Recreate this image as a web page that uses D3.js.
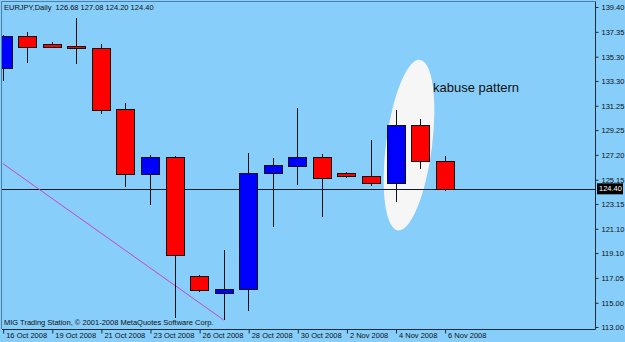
<!DOCTYPE html>
<html>
<head>
<meta charset="utf-8">
<script src="https://cdn.jsdelivr.net/npm/d3@7"></script>
<style>
body { margin: 0; background: #87CEFA; }
svg { display: block; }
text { font-family: "Liberation Sans", Arial, sans-serif; }
</style>
</head>
<body>
<div class="chart"></div>
<script>
// daily bars, EURJPY
var dates = ['16 Oct 2008', '17 Oct 2008', '19 Oct 2008', '20 Oct 2008', '21 Oct 2008', '22 Oct 2008',
	'23 Oct 2008', '24 Oct 2008', '26 Oct 2008', '27 Oct 2008', '28 Oct 2008', '29 Oct 2008',
	'30 Oct 2008', '31 Oct 2008', '2 Nov 2008', '3 Nov 2008', '4 Nov 2008', '5 Nov 2008', '6 Nov 2008'];
var open  = [134.37, 137.00, 136.35, 136.18, 136.04, 130.96, 125.62, 127.00, 117.21, 115.83, 116.11, 125.68, 126.31, 127.05, 125.68, 125.43, 124.85, 129.64, 126.68];
var high  = [137.05, 137.36, 136.51, 138.47, 136.35, 131.45, 127.19, 127.10, 117.25, 119.35, 127.33, 126.92, 131.04, 127.27, 125.81, 128.43, 130.90, 130.16, 127.08];
var low   = [133.30, 134.75, 136.02, 134.67, 130.55, 124.52, 123.06, 113.72, 115.86, 113.58, 114.34, 121.27, 124.71, 122.10, 125.27, 124.63, 123.34, 126.01, 124.20];
var close = [137.00, 136.13, 136.13, 135.99, 130.96, 125.62, 127.00, 118.94, 116.05, 116.13, 125.68, 126.36, 127.02, 125.32, 125.40, 124.85, 129.64, 126.64, 124.40];

var yTicks = [139.40, 137.35, 135.30, 133.30, 131.25, 129.25, 127.20, 125.15, 123.15, 121.10, 119.10, 117.05, 115.00, 113.00];
var xTickIdx = [0, 2, 4, 6, 8, 10, 12, 14, 16, 18];
var lastPrice = 124.40;

var title = 'EURJPY,Daily  126.68 127.08 124.20 124.40';
var copyright = 'MIG Trading Station, \u00a9 2001-2008 MetaQuotes Software Corp.';

// drawn objects: trend line, oval and label
var trendIdx = [0, 9];
var trendPrice = [126.49, 113.58];
var ovalAt = [16.55, 128.0];
var noteText = 'kabuse pattern';
var noteAt = [17.53, 132.39];

var width = 625, height = 342;
var plot = {left: 2, top: 2, right: 595, bottom: 329};

var svg = d3.select('.chart')
	.append('svg')
	.attr('width', width)
	.attr('height', height);

svg.append('rect')
	.attr('width', width)
	.attr('height', height)
	.attr('fill', '#87CEFA');

var x = d3.scaleLinear().domain([0, 18]).range([2.7, 444.6]);
var y = d3.scaleLinear().domain([113.0, 139.4]).range([327, 7]);

svg.append('clipPath')
	.attr('id', 'clip')
	.append('rect')
	.attr('x', plot.left)
	.attr('y', plot.top)
	.attr('width', plot.right - plot.left)
	.attr('height', plot.bottom - plot.top);

var g = svg.append('g').attr('clip-path', 'url(#clip)');

// oval round the pattern
g.append('ellipse')
	.attr('cx', 0)
	.attr('cy', 0)
	.attr('rx', 23)
	.attr('ry', 86)
	.attr('transform', 'translate(' + x(ovalAt[0]) + ',' + y(ovalAt[1]) + ') rotate(7.4)')
	.attr('fill', '#f6f6f6');

// last price line
g.append('line')
	.attr('x1', plot.left)
	.attr('x2', plot.right)
	.attr('y1', Math.round(y(lastPrice)) + 0.5)
	.attr('y2', Math.round(y(lastPrice)) + 0.5)
	.attr('stroke', '#0d1a24')
	.attr('stroke-width', 1);

// trend line
g.append('line')
	.attr('x1', x(trendIdx[0]))
	.attr('y1', y(trendPrice[0]))
	.attr('x2', x(trendIdx[1]))
	.attr('y2', y(trendPrice[1]))
	.attr('stroke', '#cc44cc')
	.attr('stroke-width', 1);

var bars = d3.range(dates.length);

function px(i) { return Math.round(x(i)) + 0.5; }

g.selectAll('.wick')
	.data(bars)
	.enter()
	.append('line')
	.attr('class', 'wick')
	.attr('x1', px)
	.attr('x2', px)
	.attr('y1', function(i) { return y(high[i]); })
	.attr('y2', function(i) { return y(low[i]); })
	.attr('stroke', '#111')
	.attr('stroke-width', 1)
	.attr('shape-rendering', 'crispEdges');

g.selectAll('.body')
	.data(bars)
	.enter()
	.append('rect')
	.attr('class', 'body')
	.attr('x', function(i) { return px(i) - 9; })
	.attr('y', function(i) { return Math.round(y(Math.max(open[i], close[i]))) + 0.5; })
	.attr('width', 18)
	.attr('height', function(i) {
		return Math.max(1, Math.round(y(Math.min(open[i], close[i])) - y(Math.max(open[i], close[i]))));
	})
	.attr('fill', function(i) { return close[i] >= open[i] ? '#0000ff' : '#ff0000'; })
	.attr('stroke', '#111')
	.attr('stroke-width', 1)
	.attr('shape-rendering', 'crispEdges');

// note text
g.append('text')
	.attr('x', x(noteAt[0]))
	.attr('y', y(noteAt[1]))
	.attr('font-size', '13px')
	.attr('fill', '#111')
	.text(noteText);

// frame
svg.append('path')
	.attr('d', 'M' + (plot.left - 0.5) + ',' + plot.bottom + 'V' + (plot.top - 0.5) + 'H' + plot.right)
	.attr('fill', 'none')
	.attr('stroke', '#4b7fa8')
	.attr('stroke-width', 1);

svg.append('path')
	.attr('d', 'M' + plot.left + ',' + (plot.bottom + 0.5) + 'H' + (plot.right + 0.5) + 'V' + (plot.top - 0.5))
	.attr('fill', 'none')
	.attr('stroke', '#1c2c3a')
	.attr('stroke-width', 1);

// price axis
var yAxis = d3.axisRight(y)
	.tickValues(yTicks)
	.tickSize(3)
	.tickPadding(3)
	.tickFormat(d3.format('.2f'));

var ya = svg.append('g')
	.attr('transform', 'translate(' + (plot.right + 0.5) + ',0)')
	.call(yAxis);
ya.select('.domain').remove();
ya.selectAll('line').attr('stroke', '#1c2c3a');
ya.selectAll('text')
	.attr('font-size', '7.5px')
	.attr('fill', '#111')
	.style('font-family', '"Liberation Sans", Arial, sans-serif');

// last price tag
var tag = svg.append('g')
	.attr('transform', 'translate(597,' + y(lastPrice) + ')');
tag.append('rect')
	.attr('x', 0)
	.attr('y', -5.5)
	.attr('width', 26)
	.attr('height', 11)
	.attr('fill', '#000');
tag.append('text')
	.attr('x', 2)
	.attr('dy', '0.35em')
	.attr('font-size', '7.5px')
	.attr('fill', '#fff')
	.text(d3.format('.2f')(lastPrice));

// time axis
var xAxis = d3.axisBottom(x)
	.tickValues(xTickIdx)
	.tickSize(4)
	.tickFormat(function(i) { return dates[i]; });

var xa = svg.append('g')
	.attr('transform', 'translate(0,' + (plot.bottom + 0.5) + ')')
	.call(xAxis);
xa.select('.domain').remove();
xa.selectAll('line')
	.attr('stroke', '#1c2c3a')
	.attr('transform', 'translate(0.5,0)');
xa.selectAll('text')
	.attr('text-anchor', 'start')
	.attr('x', 3)
	.attr('y', 3)
	.attr('font-size', '7.5px')
	.attr('fill', '#111')
	.style('font-family', '"Liberation Sans", Arial, sans-serif');

// header and copyright
svg.append('text')
	.attr('x', 4)
	.attr('y', 10)
	.attr('font-size', '7.5px')
	.attr('fill', '#111')
	.attr('xml:space', 'preserve')
	.style('white-space', 'pre')
	.text(title);

svg.append('text')
	.attr('x', 4)
	.attr('y', 325)
	.attr('font-size', '7.5px')
	.attr('fill', '#111')
	.text(copyright);
</script>
</body>
</html>
